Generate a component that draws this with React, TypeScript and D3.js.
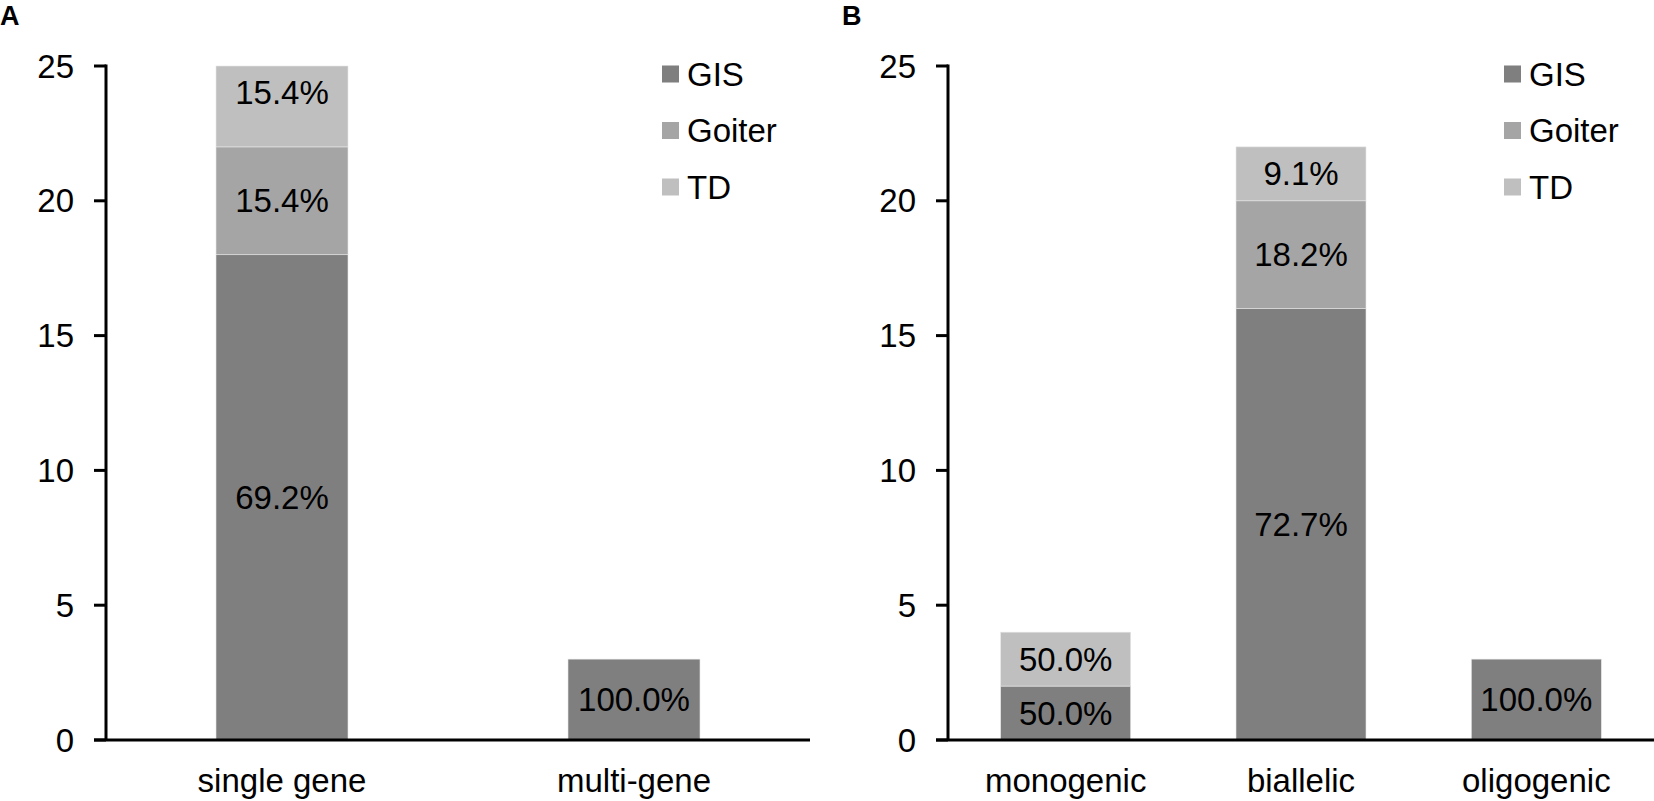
import * as d3 from "d3";
import { useEffect, useRef } from "react";

// series + colours
const seriesNames = ["GIS", "Goiter", "TD"];
const seriesColors = ["#7f7f7f", "#a5a5a5", "#bfbfbf"];

// panel A
const catsA = ["single gene", "multi-gene"];
const gisA = [18, 3];
const goiterA = [4, 0];
const tdA = [4, 0];

// panel B
const catsB = ["monogenic", "biallelic", "oligogenic"];
const gisB = [2, 16, 3];
const goiterB = [0, 4, 0];
const tdB = [2, 2, 0];

const yTicks = [0, 5, 10, 15, 20, 25];

const W = 1654;
const H = 801;
const FONT = "'Liberation Sans', Arial, sans-serif";

interface Panel {
    letter: string;
    cats: string[];
    values: number[][];
    left: number;
    right: number;
    barWidth: number;
}

const panels: Panel[] = [
    { letter: "A", cats: catsA, values: [gisA, goiterA, tdA], left: 106, right: 810, barWidth: 132 },
    { letter: "B", cats: catsB, values: [gisB, goiterB, tdB], left: 948, right: 1654, barWidth: 130 },
];

export default function App() {
    const ref = useRef<SVGSVGElement | null>(null);

    useEffect(() => {
        if (!ref.current) return;
        const svg = d3.select(ref.current);
        svg.selectAll("*").remove();

        // axis tops out at 25, bars taller than that get cut (single gene = 26)
        const y = d3.scaleLinear().domain([0, 25]).range([740, 66]).clamp(true);
        const yFree = d3.scaleLinear().domain([0, 25]).range([740, 66]);

        panels.forEach(p => {
            const g = svg.append("g").attr("font-family", FONT);
            const off = p.left - 106;

            // panel letter
            g.append("text")
                .attr("x", off)
                .attr("y", 25)
                .attr("font-size", 27)
                .attr("font-weight", "bold")
                .text(p.letter);

            const x = d3.scaleBand<string>()
                .domain(p.cats)
                .range([p.left, p.right])
                .padding(0);

            // stacks
            const rows = p.cats.map((c, i) => {
                const r: any = { cat: c };
                seriesNames.forEach((s, k) => (r[s] = p.values[k][i]));
                return r;
            });
            const stacked = d3.stack<any>().keys(seriesNames)(rows);

            stacked.forEach((layer, k) => {
                layer.forEach((d, i) => {
                    const v = p.values[k][i];
                    if (!v) return;
                    const total = d3.sum(p.values, s => s[i]);
                    const cx = x(p.cats[i])! + x.bandwidth() / 2;
                    g.append("rect")
                        .attr("x", cx - p.barWidth / 2)
                        .attr("y", y(d[1]))
                        .attr("width", p.barWidth)
                        .attr("height", y(d[0]) - y(d[1]))
                        .attr("fill", seriesColors[k])
                        .attr("stroke", "#e6e6e6")
                        .attr("stroke-width", 0.6);
                    g.append("text")
                        .attr("x", cx)
                        .attr("y", yFree((d[0] + d[1]) / 2))
                        .attr("text-anchor", "middle")
                        .attr("dominant-baseline", "central")
                        .attr("font-size", 33)
                        .attr("fill", "#000")
                        .text(((v / total) * 100).toFixed(1) + "%");
                });
            });

            // y axis
            const yAxis = g.append("g").attr("transform", `translate(${p.left},0)`);
            yAxis.append("line")
                .attr("x1", 0).attr("x2", 0)
                .attr("y1", y(25) - 1.5).attr("y2", y(0))
                .attr("stroke", "#000").attr("stroke-width", 3);
            yTicks.forEach(t => {
                yAxis.append("line")
                    .attr("x1", -12).attr("x2", 0)
                    .attr("y1", y(t)).attr("y2", y(t))
                    .attr("stroke", "#000").attr("stroke-width", 3);
                yAxis.append("text")
                    .attr("x", -32)
                    .attr("y", y(t))
                    .attr("text-anchor", "end")
                    .attr("dominant-baseline", "central")
                    .attr("font-size", 33)
                    .text(t);
            });

            // x axis
            g.append("line")
                .attr("x1", p.left - 12).attr("x2", p.right)
                .attr("y1", y(0)).attr("y2", y(0))
                .attr("stroke", "#000").attr("stroke-width", 3);
            p.cats.forEach(c => {
                g.append("text")
                    .attr("x", x(c)! + x.bandwidth() / 2)
                    .attr("y", 792)
                    .attr("text-anchor", "middle")
                    .attr("font-size", 33)
                    .text(c);
            });

            // legend
            const lg = g.append("g").attr("transform", `translate(${662 + off},0)`);
            seriesNames.forEach((s, k) => {
                const cy = 74 + k * 56.5;
                lg.append("rect")
                    .attr("x", 0).attr("y", cy - 8.5)
                    .attr("width", 17).attr("height", 17)
                    .attr("fill", seriesColors[k]);
                lg.append("text")
                    .attr("x", 25).attr("y", cy)
                    .attr("dominant-baseline", "central")
                    .attr("font-size", 33)
                    .text(s);
            });
        });
    }, []);

    return (
        <svg
            ref={ref}
            width={W}
            height={H}
            style={{ position: "absolute", left: 0, top: 0, background: "#fff" }}
        />
    );
}
